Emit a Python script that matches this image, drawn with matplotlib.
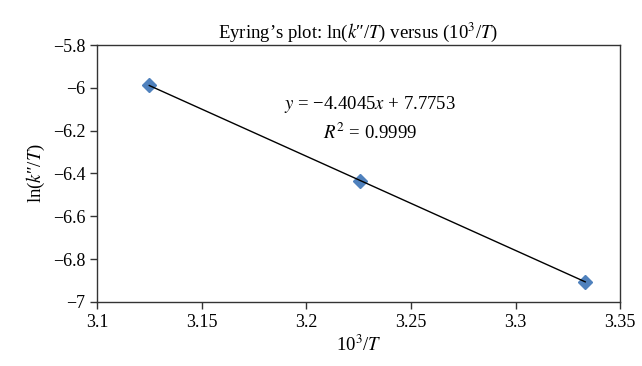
import matplotlib
matplotlib.use("Agg")
import matplotlib.pyplot as plt
from matplotlib.ticker import FuncFormatter
import numpy as np

# 10^3/T values and ln(k''/T)
inv_temp = [3.125, 3.2258, 3.3333]
ln_k_over_t = [-5.989, -6.433, -6.906]

x_ticks = [3.1, 3.15, 3.2, 3.25, 3.3, 3.35]
y_ticks = [-5.8, -6.0, -6.2, -6.4, -6.6, -6.8, -7.0]

plt.rcParams["font.family"] = ["Liberation Serif", "DejaVu Serif"]
plt.rcParams["mathtext.fontset"] = "stix"


def _fmt(value, pos):
    return ("%g" % round(value, 3)).replace("-", "\u2212")


fig = plt.figure(figsize=(6.42, 3.66), dpi=100)
ax = fig.add_axes([0.151, 0.175, 0.815, 0.702])

slope, intercept = np.polyfit(inv_temp, ln_k_over_t, 1)
line_x = np.array([inv_temp[0], inv_temp[-1]])

ax.plot(inv_temp, ln_k_over_t, linestyle="none", marker="D", markersize=7,
        color="#4F81BD", zorder=2)
ax.plot(line_x, slope * line_x + intercept, color="black", linewidth=1.0, zorder=3)

ax.set_xlim(3.1, 3.35)
ax.set_ylim(-7.0, -5.8)
ax.set_xticks(x_ticks)
ax.set_yticks(y_ticks)
ax.xaxis.set_major_formatter(FuncFormatter(_fmt))
ax.yaxis.set_major_formatter(FuncFormatter(_fmt))
ax.tick_params(direction="out", length=5, width=1, labelsize=13, color="#333333")
for spine in ax.spines.values():
    spine.set_color("#333333")
    spine.set_linewidth(1.0)

ax.set_title("Eyring\u2019s plot: ln($k$\u2033/$T$) versus (10$^3$/$T$)",
             fontsize=13.5, pad=5)
ax.set_xlabel("10$^3$/$T$", fontsize=13.5, labelpad=3)
ax.set_ylabel("ln($k$\u2033/$T$)", fontsize=13.5, labelpad=4)

ax.text(3.2305, -6.08, "$y$ = \u22124.4045$x$ + 7.7753", fontsize=13.5,
        ha="center", va="center")
ax.text(3.2305, -6.21, "$R^2$ = 0.9999", fontsize=13.5, ha="center", va="center")

fig.savefig("out.png", dpi=100)
